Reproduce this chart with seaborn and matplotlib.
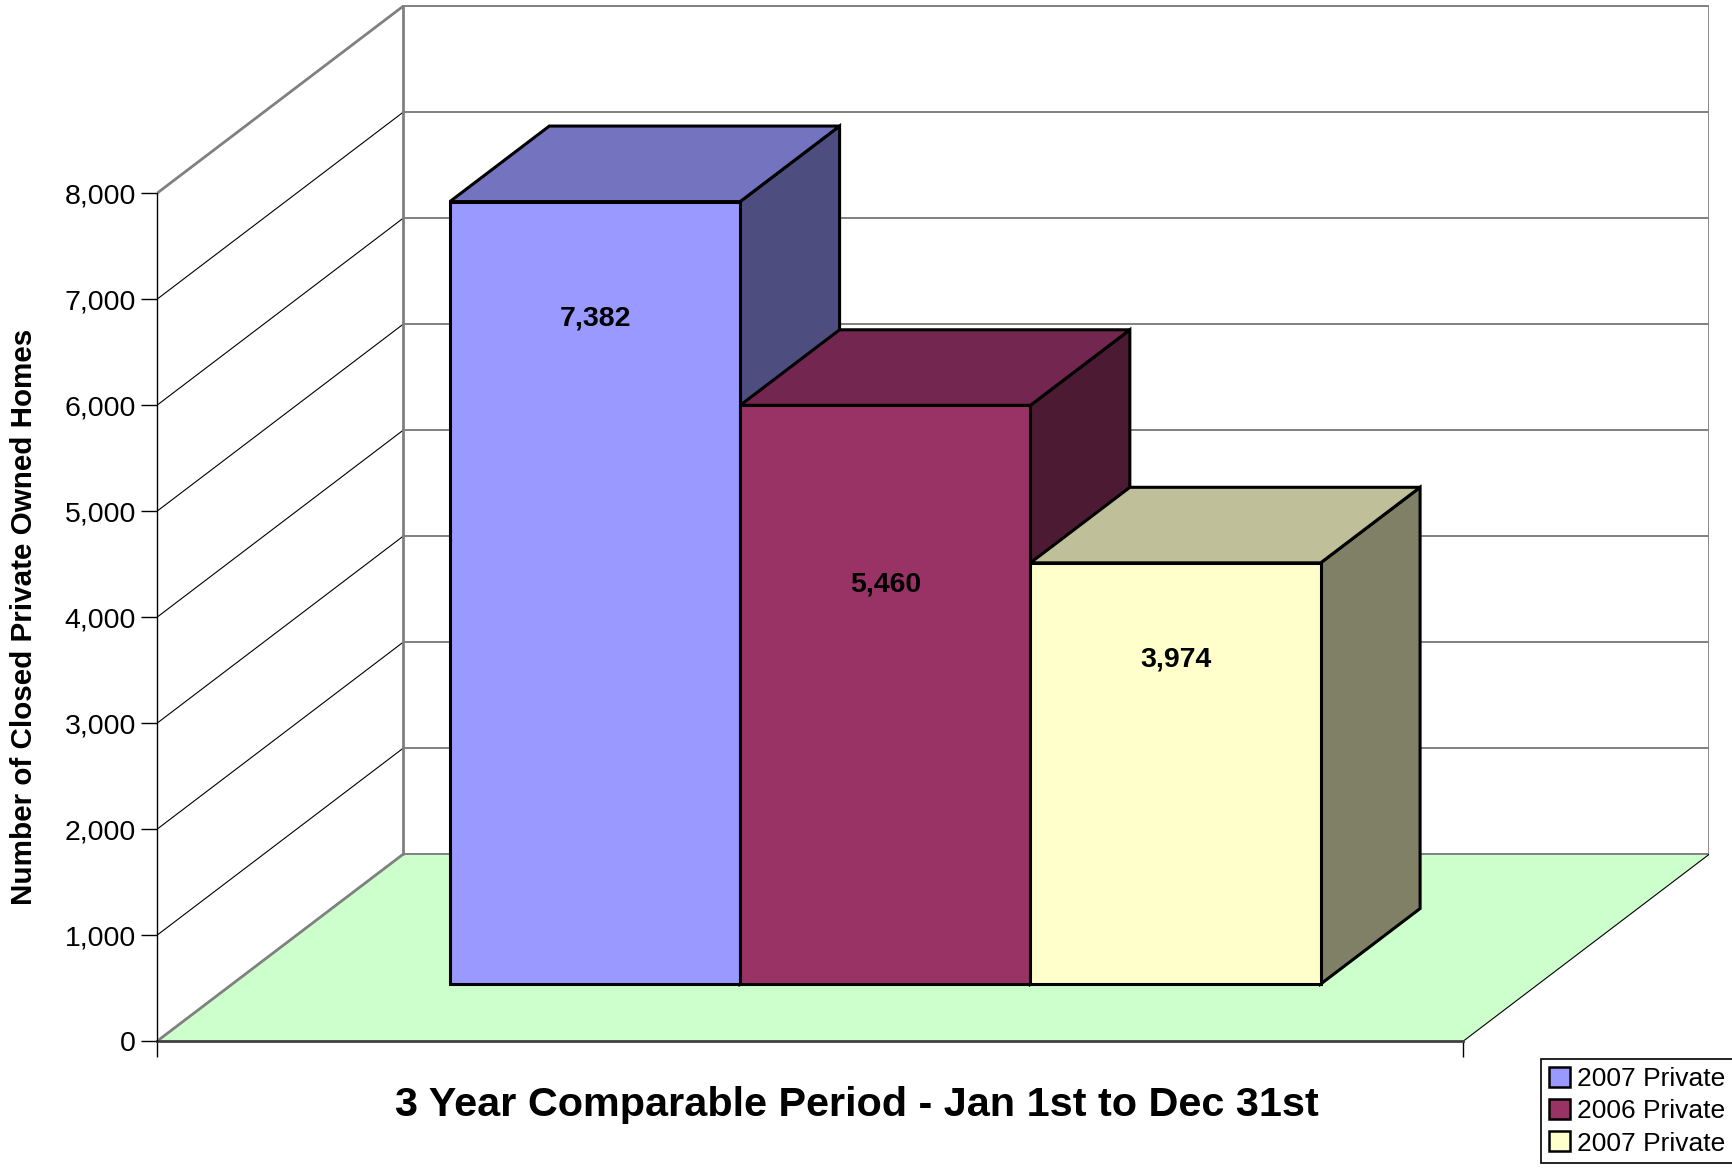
import numpy as np
import pandas as pd
import matplotlib.pyplot as plt
import seaborn as sns
from matplotlib.patches import Polygon, Patch
from matplotlib.ticker import FuncFormatter

# data
period = "3 Year Comparable Period - Jan 1st to Dec 31st"
series = ["2007 Private", "2006 Private", "2007 Private"]
homes = [7382, 5460, 3974]
y_ticks = [0, 1000, 2000, 3000, 4000, 5000, 6000, 7000, 8000]

front_colors = ["#9999FF", "#993366", "#FFFFCC"]
top_colors = ["#7373BF", "#732650", "#BFBF99"]
side_colors = ["#4D4D80", "#4D1A33", "#808066"]

# fake 3d (oblique) settings: offset of the full floor depth in data units
DX, DY = 0.188, 1760
D0, D1 = 0.305, 0.71          # bars sit between these depth fractions
label_frac = [0.85, 0.69, 0.77]  # where Excel put the value labels

sns.set_style("white")
plt.rcParams["font.family"] = ["Liberation Sans", "DejaVu Sans"]
plt.rcParams["text.color"] = "black"
plt.rcParams["axes.labelcolor"] = "black"
plt.rcParams["xtick.color"] = "black"
plt.rcParams["ytick.color"] = "black"

W, H = 1732, 1175
fig = plt.figure(figsize=(W / 100, H / 100), dpi=100)

# place axes so that value 0 sits at pixel row 1041, 0.106 px per home
y_lo, y_hi = -400, 9800
ppu = 0.106
bottom_px = 1041 + (-y_lo) * ppu
top_px = 1041 - y_hi * ppu
left_px, right_px = 157.3, 1709
ax = fig.add_axes([left_px / W, 1 - bottom_px / H, (right_px - left_px) / W, (bottom_px - top_px) / H])

edge_lw = 2.2
df = pd.DataFrame({"period": [period] * 3, "bar": ["b0", "b1", "b2"], "homes": homes})
sns.barplot(data=df, x="period", y="homes", hue="bar", palette=front_colors, saturation=1,
            width=2 / 3, errorbar=None, edgecolor="black", linewidth=edge_lw, legend=False, ax=ax)
bars = sorted([p for p in ax.patches], key=lambda p: p.get_x())

x0, x1 = -0.5, 0.5
wall_c = "#808080"

# floor
ax.add_patch(Polygon([(x0, 0), (x1, 0), (x1 + DX, DY), (x0 + DX, DY)], fc="#CCFFCC", ec="none", zorder=0))

# back wall gridlines and side wall lines
for t in y_ticks:
    ax.plot([x0 + DX, x1 + DX], [t + DY, t + DY], color=wall_c, lw=1.4, zorder=1)
    if 0 < t < 8000:
        ax.plot([x0, x0 + DX], [t, t + DY], color="black", lw=0.8, zorder=1)

# wall edges
ax.plot([x0, x0 + DX], [8000, 8000 + DY], color=wall_c, lw=2, zorder=1)
ax.plot([x0, x0 + DX], [0, DY], color=wall_c, lw=2, zorder=1)
ax.plot([x0 + DX, x0 + DX], [DY, 8000 + DY], color=wall_c, lw=2, zorder=1)
ax.plot([x1 + DX, x1 + DX], [DY, 8000 + DY], color=wall_c, lw=2, zorder=1)
ax.plot([x1, x1 + DX], [0, DY], color="black", lw=0.8, zorder=1)

# push the bars back into the box and add top/side faces
ox, oy = D0 * DX, D0 * DY
dx, dy = (D1 - D0) * DX, (D1 - D0) * DY
for i, bar in enumerate(bars):
    bx, bw, v = bar.get_x(), bar.get_width(), bar.get_height()
    bar.set_x(bx + ox)
    bar.set_y(oy)
    bar.set_zorder(4 + 2 * i)
    xl, xr, yt = bx + ox, bx + ox + bw, oy + v
    top = Polygon([(xl, yt), (xr, yt), (xr + dx, yt + dy), (xl + dx, yt + dy)],
                  fc=top_colors[i], ec="black", lw=edge_lw, zorder=3 + 2 * i)
    side = Polygon([(xr, oy), (xr, yt), (xr + dx, yt + dy), (xr + dx, oy + dy)],
                   fc=side_colors[i], ec="black", lw=edge_lw, zorder=3 + 2 * i)
    ax.add_patch(side)
    ax.add_patch(top)
    ax.text((xl + xr) / 2, oy + label_frac[i] * v, f"{v:,.0f}", ha="center", va="center",
            fontsize=20.5, fontweight="bold", zorder=20)

ax.set_xlim(x0, x1 + DX)
ax.set_ylim(y_lo, y_hi)

ax.set_yticks(y_ticks)
ax.yaxis.set_major_formatter(FuncFormatter(lambda v, p: f"{v:,.0f}"))
ax.set_xticks([x0, x1])
ax.set_xticklabels(["", ""])
ax.tick_params(axis="y", left=True, length=11.5, width=1, color="black", pad=4, labelsize=20.5)
ax.tick_params(axis="x", bottom=True, length=11.5, width=1, color="black")

for s in ["top", "right"]:
    ax.spines[s].set_visible(False)
ax.spines["left"].set_bounds(0, 8000)
ax.spines["left"].set_color("black")
ax.spines["left"].set_linewidth(1)
ax.spines["bottom"].set_position(("data", 0))
ax.spines["bottom"].set_bounds(x0, x1)
ax.spines["bottom"].set_color("#404040")
ax.spines["bottom"].set_linewidth(2)
ax.spines["bottom"].set_zorder(2)
ax.patch.set_alpha(0)

ax.set_xlabel(period, fontsize=29.8, fontweight="bold", va="center")
ax.xaxis.set_label_coords((856.5 - left_px) / (right_px - left_px), (bottom_px - 1105) / (bottom_px - top_px))
ax.set_ylabel("Number of Closed Private Owned Homes", fontsize=21.3, fontweight="bold", va="center")
ax.yaxis.set_label_coords((24 - left_px) / (right_px - left_px), (bottom_px - 617) / (bottom_px - top_px))

handles = [Patch(fc=c, ec="black", lw=1.8) for c in front_colors]
leg = fig.legend(handles, series, loc="upper left", bbox_to_anchor=(1541 / W, 1 - 1059 / H),
                 borderaxespad=0, fontsize=19, frameon=True, fancybox=False, edgecolor="black",
                 framealpha=1, handlelength=0.8, handleheight=0.8, handletextpad=0.25,
                 borderpad=0.3, labelspacing=0.3)
leg.get_frame().set_linewidth(1.2)

fig.savefig("out.png", dpi=100)
